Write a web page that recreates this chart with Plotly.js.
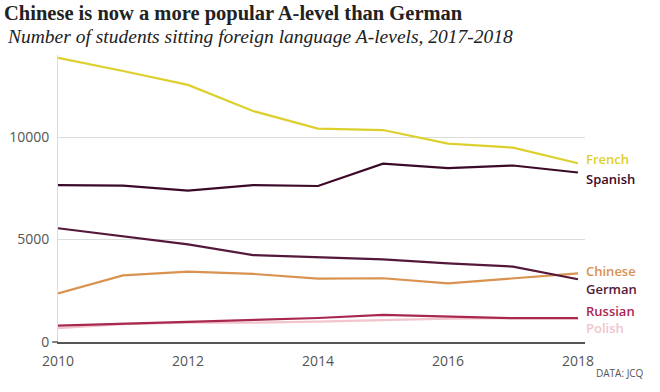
<!DOCTYPE html>
<html>
<head>
<meta charset="utf-8">
<script src="https://cdn.plot.ly/plotly-3.0.1.min.js"></script>
<style>html,body{margin:0;padding:0;background:#fff;}</style>
</head>
<body>
<div id="chart" style="width:660px;height:392px;"></div>
<script>
const years = [2010, 2011, 2012, 2013, 2014, 2015, 2016, 2017, 2018];
const french  = [13860, 13220, 12540, 11270, 10410, 10340, 9680, 9480, 8720];
const spanish = [7650, 7630, 7380, 7650, 7610, 8700, 8480, 8610, 8270];
const german  = [5550, 5170, 4760, 4240, 4150, 4030, 3840, 3680, 3060];
const chinese = [2370, 3250, 3430, 3320, 3090, 3110, 2860, 3120, 3350];
const russian = [800, 900, 1000, 1070, 1170, 1320, 1240, 1160, 1160];
const polish  = [670, 870, 940, 940, 990, 1070, 1140, 1160, 1160];

const seriesNames = ["Polish", "Russian", "Chinese", "German", "Spanish", "French"];
const seriesData = [polish, russian, chinese, german, spanish, french];
const seriesColors = ["#f2c4cc", "#a8284f", "#d9924f", "#55183a", "#3a0a28", "#ddd02e"];
const labelValues = [680, 1530, 3480, 2600, 7950, 8930];
const xTicks = [2010, 2012, 2014, 2016, 2018];
const yTicks = [0, 5000, 10000];
const yTickText = ['0', '5000', '10000'];

const traces = seriesNames.map((n, i) => ({
  x: years, y: seriesData[i], type: 'scatter', mode: 'lines', name: n,
  line: {color: seriesColors[i], width: 2.2}, hoverinfo: 'skip'
}));

const annotations = seriesNames.map((n, i) => ({
  x: 2018.1, y: labelValues[i], xref: 'x', yref: 'y', text: n, showarrow: false,
  xanchor: 'left', yanchor: 'middle',
  font: {family: 'Open Sans, sans-serif', size: 13, color: seriesColors[i], weight: 600}
}));
annotations.push({
  xref: 'paper', yref: 'paper', x: -0.1006, y: 1.064, xanchor: 'left', yanchor: 'middle',
  text: '<i>Number of students sitting foreign language A-levels, 2017-2018</i>',
  showarrow: false, font: {family: 'Liberation Serif, serif', size: 19.5, color: '#222'}
});
annotations.push({
  xref: 'paper', yref: 'paper', x: 1.115, y: -0.108, xanchor: 'right', yanchor: 'middle',
  text: 'DATA: JCQ', showarrow: false,
  font: {family: 'Open Sans, sans-serif', size: 10, color: '#555'}
});

const layout = {
  width: 660, height: 392,
  margin: {l: 58, r: 75, t: 55, b: 50},
  paper_bgcolor: '#fff', plot_bgcolor: '#fff',
  showlegend: false,
  title: {
    text: '<b>Chinese is now a more popular A-level than German</b>',
    x: 4/660, xref: 'container', xanchor: 'left',
    y: 1 - 13/392, yref: 'container', yanchor: 'middle',
    font: {family: 'Liberation Serif, serif', size: 20.5, color: '#222'}
  },
  xaxis: {
    range: [2010, 2018.108], tickvals: xTicks,
    showgrid: false, zeroline: false, showline: true, linecolor: '#555', linewidth: 1.5,
    ticks: 'outside', ticklen: 6, tickcolor: 'rgba(0,0,0,0)',
    tickfont: {family: 'Open Sans, sans-serif', size: 14, color: '#555'},
    fixedrange: true
  },
  yaxis: {
    range: [0, 14000], tickvals: yTicks, ticktext: yTickText,
    showgrid: true, gridcolor: '#dcdcdc', gridwidth: 1, zeroline: false,
    showline: true, linecolor: '#dcdcdc', linewidth: 1,
    ticks: 'outside', ticklen: 5, tickcolor: 'rgba(0,0,0,0)',
    tickfont: {family: 'Open Sans, sans-serif', size: 14, color: '#555'},
    fixedrange: true
  },
  shapes: [{type: 'line', xref: 'paper', yref: 'paper', x0: -0.011, x1: 0, y0: 0, y1: 0,
            line: {color: '#555', width: 1.5}}],
  annotations: annotations
};

Plotly.newPlot('chart', traces, layout, {displayModeBar: false, staticPlot: true});
</script>
</body>
</html>
